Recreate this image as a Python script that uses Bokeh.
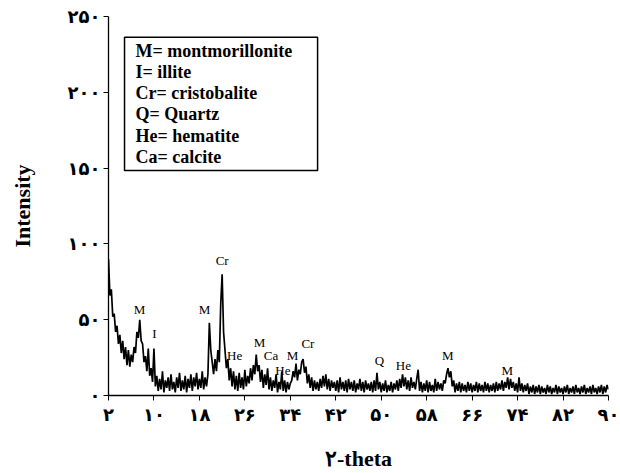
import numpy as np
from bokeh.plotting import figure
from bokeh.models import Range1d, FixedTicker
from bokeh.core.properties import value
from bokeh.embed import file_html
from bokeh.resources import INLINE

# ---------------- data ----------------
two_theta_start = 2.0
two_theta_step = 0.25
intensity = [
    90, 66, 70, 52,  54, 42, 46, 34,  40, 28, 36, 24,  32, 20, 30, 19,   # 2-5
    27, 22, 32, 28,  42, 38, 50, 36,  34, 22, 26, 16,  31, 13, 18, 9,    # 6-9
    31, 6, 13, 3,    11, 4, 16, 2,    10, 5, 12, 3,    14, 4, 9, 2,      # 10-13
    12, 5, 15, 3,    10, 4, 13, 2,    11, 5, 14, 3,    12, 6, 15, 4,     # 14-17
    11, 5, 16, 4,    12, 6, 14, 48,   30, 22, 14, 24,  16, 30, 22, 60,   # 18-21
    80, 42, 30, 18,  24, 10, 18, 6,   16, 4, 13, 3,    15, 5, 12, 4,     # 22-25
    17, 6, 13, 8,    18, 10, 20, 14,  27, 16, 20, 9,   17, 5, 14, 7,     # 26-29
    18, 4, 12, 3,    10, 5, 14, 2,    9, 4, 16, 3,     10, 2, 9, 4,      # 30-33
    8, 10, 16, 12,   21, 10, 17, 14,  22, 24, 15, 19,  8, 14, 5, 12,     # 34-37
    3, 10, 4, 9,     3, 11, 5, 13,    6, 14, 4, 11,    3, 10, 5, 9,      # 38-41
    3, 10, 2, 12,    4, 9, 3, 10,     2, 11, 4, 9,     3, 10, 2, 8,      # 42-45
    4, 11, 3, 9,     2, 10, 4, 8,     3, 9, 2, 10,     3, 15, 4, 9,      # 46-49
    2, 8, 3, 10,     2, 7, 3, 9,      2, 8, 4, 10,     3, 11, 5, 14,     # 50-53
    6, 12, 4, 10,    3, 12, 5, 9,     4, 11, 17, 3,    9, 2, 8, 3,       # 54-57
    10, 2, 9, 3,     7, 2, 11, 3,     9, 4, 8, 3,      10, 8, 14, 18,    # 58-61
    12, 16, 6, 10,   2, 8, 3, 9,      2, 8, 3, 7,      2, 9, 3, 8,       # 62-65
    2, 7, 3, 9,      2, 8, 3, 7,      2, 9, 3, 8,      2, 7, 3, 8,       # 66-69
    2, 9, 3, 8,      4, 10, 3, 9,     5, 12, 4, 11,    5, 9, 3, 8,       # 70-73
    2, 12, 3, 8,     2, 7, 3, 8,      1, 6, 2, 7,      1, 6, 2, 7,       # 74-77
    1, 6, 2, 5,      1, 7, 2, 6,      1, 5, 2, 7,      1, 6, 2, 5,       # 78-81
    1, 6, 2, 7,      1, 5, 2, 6,      1, 7, 2, 5,      1, 6, 2, 7,       # 82-85
    1, 5, 2, 6,      1, 7, 2, 5,      1, 6, 2, 7,      1, 6, 2, 7,       # 86-89
    4,                                                                   # 90
]
two_theta = two_theta_start + two_theta_step * np.arange(len(intensity))

x_ticks = [2, 10, 18, 26, 34, 42, 50, 58, 66, 74, 82, 90]
x_tick_labels = ["۲", "۱۰", "۱۸", "۲۶", "۳۴", "۴۲", "۵۰", "۵۸", "۶۶", "۷۴", "۸۲", "۹۰"]
y_ticks = [0, 50, 100, 150, 200, 250]
y_tick_labels = ["۰", "۵۰", "۱۰۰", "۱۵۰", "۲۰۰", "۲۵۰"]

peak_labels = ["M", "I", "M", "Cr", "He", "M", "Ca", "He", "M", "Cr", "Q", "He", "M", "M"]
peak_x = [7.46, 10.1, 18.9, 22.0, 24.2, 28.6, 30.6, 32.7, 34.4, 37.1, 49.7, 53.9, 61.7, 72.2]
peak_y = [56.6, 41.0, 56.6, 89.0, 26.7, 35.0, 26.7, 16.3, 26.7, 34.5, 22.8, 19.5, 26.7, 16.3]

legend_lines = ["M= montmorillonite", "I= illite", "Cr= cristobalite",
                "Q= Quartz", "He= hematite", "Ca= calcite"]

# ---------------- figure ----------------
p = figure(width=620, height=473, output_backend="svg", toolbar_location=None,
           x_range=Range1d(2, 90), y_range=Range1d(0, 250),
           min_border_left=108, min_border_right=12, min_border_top=16, min_border_bottom=73)
p.outline_line_color = None
p.xgrid.visible = False
p.ygrid.visible = False
p.background_fill_color = "white"
p.border_fill_color = "white"

p.line(two_theta, intensity, line_color="black", line_width=1.7)

# peak labels
p.text(x=peak_x, y=peak_y, text=peak_labels, text_font=value("Liberation Serif"),
       text_font_size="13px", text_align="center", text_baseline="middle", text_color="black")

# legend box
p.quad(left=[4.82], right=[38.8], bottom=[148.4], top=[236.3],
       fill_color="white", line_color="black", line_width=1.5)
leg_y = [227.4, 213.2, 199.7, 185.5, 171.4, 157.4]
p.text(x=[6.75] * len(legend_lines), y=leg_y, text=legend_lines,
       text_font=value("Liberation Serif"), text_font_style="bold",
       text_font_size="18px", text_align="left", text_baseline="middle", text_color="black")

# axes
for ax in (p.xaxis[0], p.yaxis[0]):
    ax.axis_line_color = "black"
    ax.axis_line_width = 1.3
    ax.major_tick_line_color = "black"
    ax.major_tick_out = 5
    ax.major_tick_in = 0
    ax.minor_tick_line_color = None
    ax.major_label_text_font = "DejaVu Sans"
    ax.major_label_text_font_style = "bold"
    ax.major_label_text_font_size = "18px"
    ax.major_label_text_color = "black"
    ax.axis_label_text_font = "Liberation Serif"
    ax.axis_label_text_font_style = "bold"
    ax.axis_label_text_font_size = "22px"
    ax.axis_label_text_color = "black"

p.xaxis.ticker = FixedTicker(ticks=x_ticks)
p.xaxis.major_label_overrides = {t: l for t, l in zip(x_ticks, x_tick_labels)}
p.yaxis.ticker = FixedTicker(ticks=y_ticks)
p.yaxis.major_label_overrides = {t: l for t, l in zip(y_ticks, y_tick_labels)}
p.xaxis.major_label_standoff = 3
p.yaxis.major_label_standoff = 3
p.xaxis.axis_label = "۲-theta"
p.yaxis.axis_label = "Intensity"
p.xaxis.axis_label_standoff = 18
p.yaxis.axis_label_standoff = 30

open("out.html", "w").write(file_html(p, INLINE))
